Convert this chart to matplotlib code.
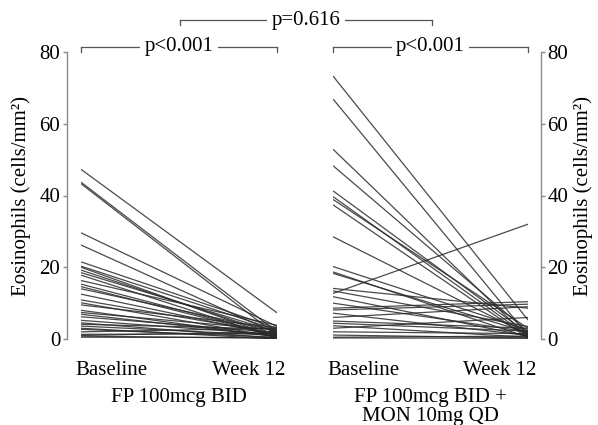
import matplotlib
matplotlib.use("Agg")
import matplotlib.pyplot as plt
from matplotlib.lines import Line2D
import matplotlib.transforms as mtransforms

plt.rcParams['font.family'] = ['Liberation Serif', 'DejaVu Serif']

# ---- data ----
timepoints = ["Baseline", "Week 12"]
group_labels = ["FP 100mcg BID", "FP 100mcg BID +\nMON 10mg QD"]
ylabel = "Eosinophils (cells/mm²)"
yticks = [0, 20, 40, 60, 80]

fp_baseline = [47.3, 43.7, 43.3, 29.6, 26.2, 21.5, 20.3, 20.0, 19.2, 18.5,
               17.8, 16.3, 15.3, 14.6, 14.0, 12.5, 10.9, 10.1, 9.5, 8.0,
               7.4, 6.9, 6.2, 5.2, 4.5, 4.1, 3.6, 3.0, 2.7, 2.0,
               1.3, 1.0, 0.8, 0.5]
fp_week12 = [7.3, 2.0, 1.0, 3.5, 1.5, 3.0, 2.5, 0.5, 1.2, 2.0,
             0.3, 3.8, 1.0, 0.8, 2.2, 1.0, 1.5, 0.5, 3.2, 0.6,
             2.5, 0.8, 1.8, 1.2, 0.2, 2.8, 1.0, 0.0, 0.5, 3.0,
             1.5, 2.0, 0.2, 0.4]

mon_baseline = [73.3, 66.9, 52.9, 48.3, 41.3, 39.7, 38.9, 37.4, 28.5, 20.2,
                18.7, 18.3, 14.1, 13.4, 12.7, 11.8, 10.0, 8.6, 8.1, 7.2,
                6.0, 5.0, 4.4, 3.7, 3.0, 2.0, 1.1, 0.5, 0.3]
mon_week12 = [5.3, 1.0, 0.5, 2.0, 1.5, 0.8, 3.0, 0.3, 1.2, 2.5,
              0.5, 1.8, 8.6, 3.5, 32.0, 0.8, 2.0, 10.4, 9.7, 1.0,
              9.0, 3.0, 2.2, 0.5, 6.0, 1.5, 0.3, 0.8, 0.2]

groups = [(fp_baseline, fp_week12), (mon_baseline, mon_week12)]
p_within = ["p<0.001", "p<0.001"]
p_between = "p=0.616"

FS = 15
W, H = 598, 425
fig = plt.figure(figsize=(W / 100, H / 100), dpi=100)

ax_rects = [(81 / W, 1 - 339 / H, 196 / W, 287 / H),
            (333 / W, 1 - 339 / H, 195 / W, 287 / H)]
axes = []
for i, (rect, (b, w)) in enumerate(zip(ax_rects, groups)):
    ax = fig.add_axes(rect)
    axes.append(ax)
    for y0, y1 in zip(b, w):
        ax.plot([0, 1], [y0, y1], color='#2a2a2a', lw=0.9, alpha=0.85,
                solid_capstyle='butt')
    ax.set_xlim(0, 1)
    ax.set_ylim(0, 80)
    for s in ['top', 'bottom', 'left', 'right']:
        ax.spines[s].set_visible(False)
    side = 'left' if i == 0 else 'right'
    sp = ax.spines[side]
    sp.set_visible(True)
    sp.set_position(('outward', 10 if i == 0 else 9))
    sp.set_bounds(0, 80)
    sp.set_color('#8a8a8a')
    sp.set_linewidth(1.0)
    ax.yaxis.set_ticks_position(side)
    ax.yaxis.set_label_position(side)
    ax.set_yticks(yticks)
    ax.tick_params(axis='y', length=3, width=1.0, color='#8a8a8a',
                   labelsize=FS, pad=2)
    ax.set_ylabel(ylabel, fontsize=FS, rotation=90,
                  labelpad=6 if i == 0 else 3.5)
    ax.set_xticks([0, 1])
    ax.set_xticklabels(timepoints, fontsize=FS)
    ax.tick_params(axis='x', length=0, pad=16)
    lbls = ax.get_xticklabels()
    lbls[0].set_ha('left')
    lbls[1].set_ha('right')
    ax.text(0.5, -0.172, group_labels[i], transform=ax.transAxes,
            ha='center', va='top', fontsize=FS, linespacing=0.95)

# shift tick labels slightly so "Baseline" starts a bit left of the line start
for ax in axes:
    off = mtransforms.ScaledTranslation(-6 / 100, 0, fig.dpi_scale_trans)
    lb = ax.get_xticklabels()
    lb[0].set_transform(lb[0].get_transform() + off)
    off2 = mtransforms.ScaledTranslation(8 / 100, 0, fig.dpi_scale_trans)
    lb[1].set_transform(lb[1].get_transform() + off2)


def bracket(x0, x1, y, text, tick=5):
    # coordinates in figure pixels (from top-left)
    fx0, fx1 = x0 / W, x1 / W
    fy = 1 - y / H
    fyt = 1 - (y + tick) / H
    kw = dict(color='#555555', lw=0.9)
    fig.add_artist(Line2D([fx0, fx1], [fy, fy], **kw))
    fig.add_artist(Line2D([fx0, fx0], [fy, fyt], **kw))
    fig.add_artist(Line2D([fx1, fx1], [fy, fyt], **kw))
    fig.text((fx0 + fx1) / 2, fy, text, ha='center', va='center', fontsize=FS,
             bbox=dict(facecolor='white', edgecolor='none', pad=3))


bracket(81, 277, 47, p_within[0])
bracket(333, 528, 47, p_within[1])
bracket(180, 432, 20, p_between)

fig.savefig("out.png", dpi=100, facecolor='white')
